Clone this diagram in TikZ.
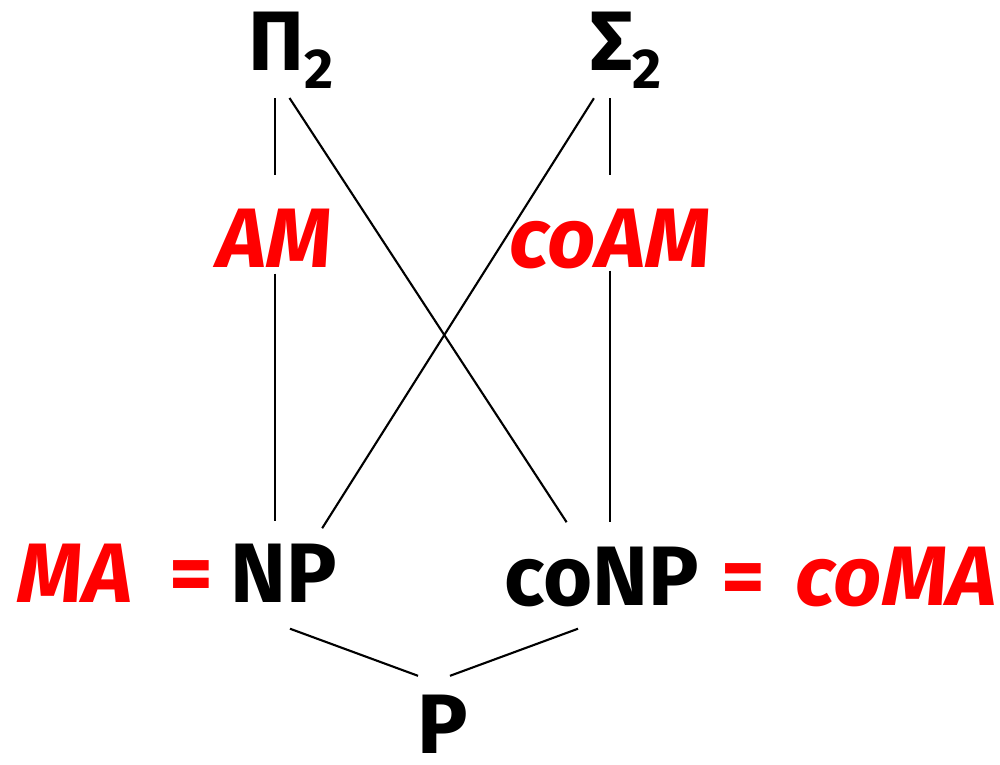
\documentclass[tikz,border=0pt]{standalone}
\usepackage{fontspec}
\setmainfont{Fira Sans}
\usepackage{xcolor}
\usepackage{tikz}
\newcommand\klassefont{\fontsize{24}{28}\selectfont\bfseries}
\newcommand\idx[1]{\raisebox{-0.18cm}{\fontsize{16}{18}\selectfont\bfseries #1}}
\tikzset{
    klasse/.style={
        font=\klassefont,
        inner sep=0pt,
        text height=0.57cm,
        text depth=0pt
    },
    rot/.style={klasse, text=red, font=\klassefont\itshape},
    gleich/.style={klasse, text=red},
    kante/.style={line width=0.6pt}
}

\begin{document}
\begin{tikzpicture}
    \useasboundingbox (0,0) rectangle (10,7.64);

    \node[klasse] (pi)    at (2.91,7.22)  {Π\idx{2}};
    \node[klasse] (sigma) at (6.26,7.22)  {Σ\idx{2}};

    \node[rot] (am)   at (2.75,5.255) {AM};
    \node[rot] (coam) at (6.10,5.255) {coAM};

    \node[rot]    (ma)   at (0.75,1.905) {MA};
    \node[gleich] (eqa)  at (1.91,1.905) {=};
    \node[klasse] (np)   at (2.84,1.905) {NP};
    \node[klasse] (conp) at (6.02,1.875) {coNP};
    \node[gleich] (eqb)  at (7.43,1.875) {=};
    \node[rot]    (coma) at (8.96,1.875) {coMA};

    \node[klasse] (p) at (4.43,0.39) {P};

    \draw[kante, shorten <=0.27cm, shorten >=0.34cm] (pi.south -| am) -- (am.north);
    \draw[kante, shorten <=0.27cm, shorten >=0.34cm] (sigma.south -| coam) -- (coam.north);
    \draw[kante, shorten <=0.06cm, shorten >=0.23cm] (am.south) -- (am.south |- np.north);
    \draw[kante, shorten <=0.03cm, shorten >=0.25cm] (coam.south) -- (coam.south |- conp.north);
    \draw[kante, shorten <=0.32cm, shorten >=0.30cm] ([xshift=-1.9mm]pi.south) -- ([xshift=-1.9mm]conp.north);
    \draw[kante, shorten <=0.32cm, shorten >=0.19cm] ([xshift=-1.5mm]sigma.south) -- ([xshift=2.8mm]np.north);
    \draw[kante] ([xshift=0.6mm,yshift=-2.6mm]np.south) -- ([xshift=-2.5mm,yshift=2.0mm]p.north);
    \draw[kante] ([xshift=-2.4mm,yshift=-2.3mm]conp.south) -- ([xshift=0.7mm,yshift=2.0mm]p.north);
\end{tikzpicture}
\end{document}
